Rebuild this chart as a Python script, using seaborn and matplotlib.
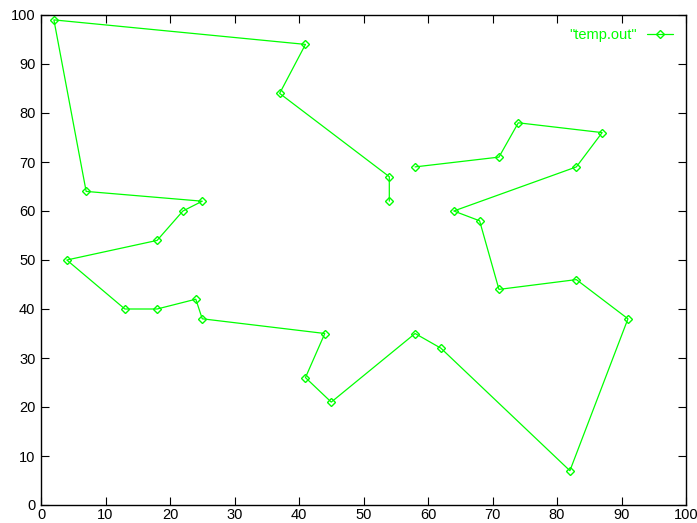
import matplotlib
matplotlib.use("Agg")
import matplotlib.pyplot as plt
import seaborn as sns
import pandas as pd

# Tour order through the cities
x_vals = [58, 71, 74, 87, 83, 64, 68, 71, 83, 91, 82, 62, 58, 45, 41, 44, 25, 24,
          18, 13, 4, 18, 22, 25, 7, 2, 41, 37, 54, 54]
y_vals = [69, 71, 78, 76, 69, 60, 58, 44, 46, 38, 7, 32, 35, 21, 26, 35, 38, 42,
          40, 40, 50, 54, 60, 62, 64, 99, 94, 84, 67, 62]
series_label = '"temp.out"'
x_ticks = [0, 10, 20, 30, 40, 50, 60, 70, 80, 90, 100]
y_ticks = [0, 10, 20, 30, 40, 50, 60, 70, 80, 90, 100]

df = pd.DataFrame({"x": x_vals, "y": y_vals, "series": series_label})

sns.set_style("white")
plt.rcParams["font.family"] = ["Liberation Sans", "DejaVu Sans"]

fig = plt.figure(figsize=(6.97, 5.23), dpi=100)
ax = fig.add_axes([41 / 697, 1 - 505 / 523, 645 / 697, 490 / 523])

green = "#00ff00"
sns.lineplot(data=df, x="x", y="y", sort=False, estimator=None, ax=ax,
             color=green, linewidth=0.9, marker="D", markersize=4.5,
             markerfacecolor="none", markeredgecolor=green, markeredgewidth=1.0,
             label=series_label)

ax.set_xlim(0, 100)
ax.set_ylim(0, 100)
ax.set_xticks(x_ticks)
ax.set_yticks(y_ticks)
ax.set_xlabel("")
ax.set_ylabel("")
ax.tick_params(direction="in", length=6, width=0.8, labelsize=10.5, colors="black",
               top=True, right=True, bottom=True, left=True)
ax.tick_params(axis="x", pad=2)
ax.tick_params(axis="y", pad=4)
for s in ax.spines.values():
    s.set_visible(True)
    s.set_color("black")
    s.set_linewidth(1.0)

leg = ax.legend(loc="upper right", frameon=False, fontsize=10.5, markerfirst=False,
                handlelength=1.8, handletextpad=0.7, borderaxespad=0.5,
                borderpad=0.4)
for t in leg.get_texts():
    t.set_color(green)

fig.savefig("out.png", dpi=100)
